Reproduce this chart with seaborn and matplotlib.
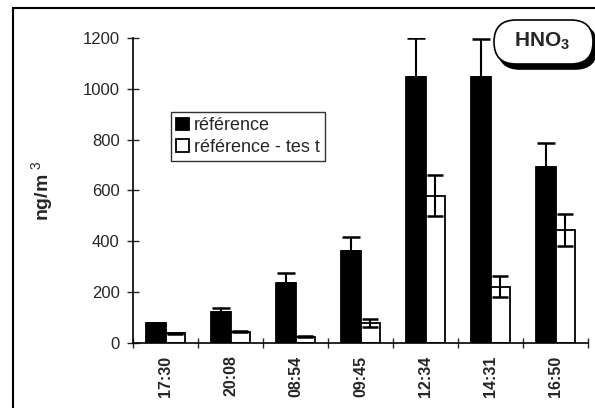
"""
HNO3 : référence vs référence - test
"""

import matplotlib
matplotlib.use("Agg")
import matplotlib.pyplot as plt
from matplotlib.patches import FancyBboxPatch, Rectangle
import pandas as pd
import seaborn as sns

heures = ["17:30", "20:08", "08:54", "09:45", "12:34", "14:31", "16:50"]
reference = [78, 122, 236, 362, 1047, 1045, 693]
reference_err = [2, 16, 40, 55, 153, 150, 95]
ref_test = [38, 45, 25, 78, 580, 222, 445]
ref_test_err = [2, 2, 2, 17, 82, 42, 63]
series = ["référence", "référence - tes t"]

sns.set_style("ticks")
plt.rcParams["font.family"] = ["Liberation Sans", "DejaVu Sans"]
plt.rcParams["mathtext.fontset"] = "custom"
plt.rcParams["mathtext.bf"] = "Liberation Sans:bold"
plt.rcParams["mathtext.rm"] = "Liberation Sans"

df = pd.DataFrame({
    "Heure": heures * 2,
    "Valeur": reference + ref_test,
    "Serie": [series[0]] * len(heures) + [series[1]] * len(heures),
})

fig = plt.figure(figsize=(5.95, 4.08), dpi=100)
ax = fig.add_axes([133 / 595, 1 - 343 / 408, 455 / 595, 305 / 408])

sns.barplot(
    data=df, x="Heure", y="Valeur", hue="Serie", order=heures,
    palette=["black", "white"], edgecolor="black", linewidth=1.3,
    width=0.6, errorbar=None, ax=ax, legend=True,
)

# barres d'erreur (référence : seulement vers le haut)
n = len(heures)
bars = ax.patches[:2 * n]
x_ref = [b.get_x() + b.get_width() / 2 for b in bars[:n]]
x_test = [b.get_x() + b.get_width() / 2 for b in bars[n:]]
ax.errorbar(x_ref, reference, yerr=[[0] * n, reference_err], fmt="none",
            ecolor="black", elinewidth=1.5, capsize=6.5, capthick=1.8, zorder=3)
ax.errorbar(x_test, ref_test, yerr=ref_test_err, fmt="none",
            ecolor="black", elinewidth=1.5, capsize=6, capthick=1.8, zorder=3)

ax.set_xlim(-0.5, n - 0.5)
ax.set_ylim(0, 1200)
ax.set_yticks(range(0, 1201, 200))
ax.set_xlabel("")
ax.set_ylabel("ng/m$^{\\ 3}$", fontsize=14, fontweight="bold", labelpad=19)
ax.set_xticks(range(n))
ax.set_xticklabels(heures, rotation=90, fontsize=11.5, fontweight="bold")
ax.set_xticks([i - 0.5 for i in range(n + 1)], minor=True)
ax.tick_params(axis="x", which="major", length=0, pad=9)
ax.tick_params(axis="x", which="minor", length=7, direction="inout", width=1)
ax.tick_params(axis="y", length=9, direction="inout", width=1, labelsize=12, pad=5)
sns.despine(ax=ax)
for s in ["left", "bottom"]:
    ax.spines[s].set_linewidth(1.2)
    ax.spines[s].set_color("black")

leg = ax.legend(loc="upper left", bbox_to_anchor=(38 / 455, 231 / 305),
                fontsize=13, frameon=True, fancybox=False, edgecolor="black",
                handlelength=0.7, handleheight=0.7, handletextpad=0.25,
                borderpad=0.3, labelspacing=0.25, borderaxespad=0)
leg.get_frame().set_linewidth(1)

# cadre extérieur
fig.patches.append(Rectangle((13 / 595, -0.05), 1.1, 1 - 8 / 408 + 0.05,
                             transform=fig.transFigure, fill=False,
                             edgecolor="black", linewidth=1.5))

# étiquette HNO3 avec ombre (coordonnées en pouces)
H = 4.08
for dx, dy, fc in [(0.04, -0.05, "black"), (0.0, 0.0, "white")]:
    fig.patches.append(FancyBboxPatch((4.94 + dx, H - 0.64 + dy), 0.99, 0.44,
                                      boxstyle="round,pad=0,rounding_size=0.22",
                                      transform=fig.dpi_scale_trans, facecolor=fc,
                                      edgecolor="black", linewidth=1.2))
fig.text(5.42, H - 0.41, r"$\mathbf{HNO_3}$", ha="center", va="center",
         fontsize=15, transform=fig.dpi_scale_trans)

fig.savefig("out.png", dpi=100)
